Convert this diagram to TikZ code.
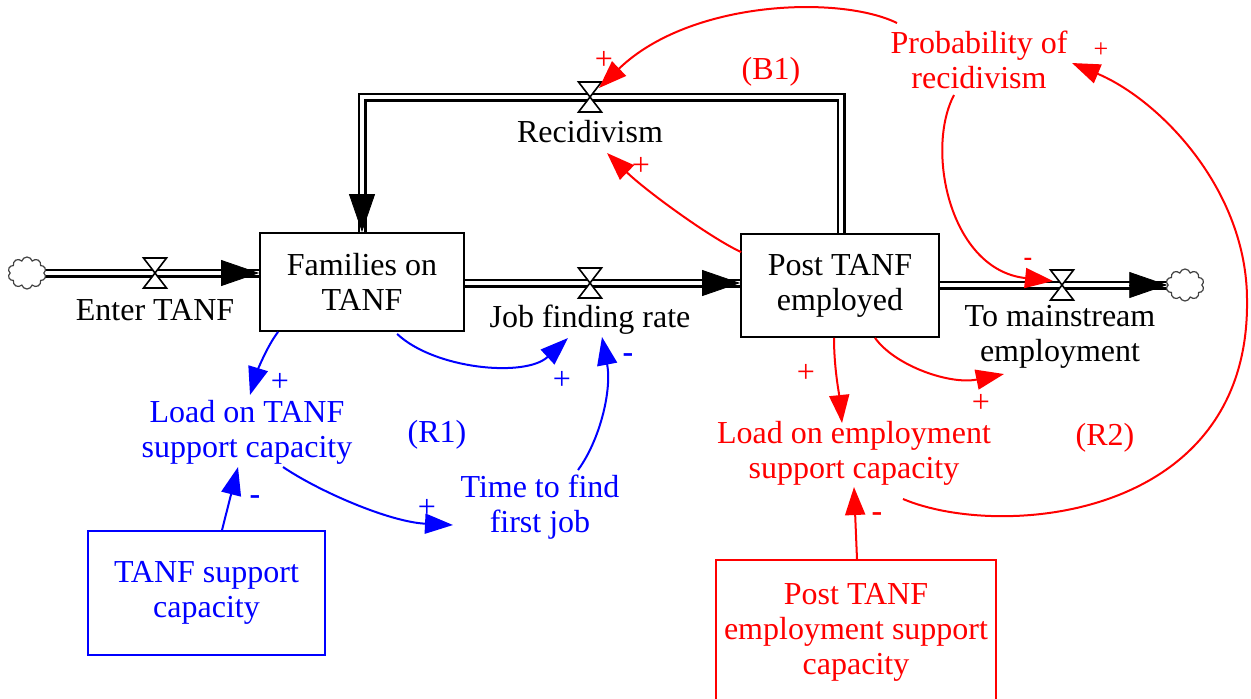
\documentclass[tikz,border=0pt]{standalone}
\usepackage{fontspec}
\setmainfont{Liberation Serif}
\usetikzlibrary{arrows.meta,shapes.symbols,calc,backgrounds}
\definecolor{cblue}{RGB}{0,0,255}
\definecolor{cred}{RGB}{255,0,0}
\tikzset{
  flowvalve/.pic={\draw[line width=0.8pt, fill=white, line join=miter] (-11.5,-15) -- (11.5,-15) -- (-11.5,15) -- (11.5,15) -- cycle;},
}
\begin{document}
\begin{tikzpicture}[x=0.5pt,y=-0.5pt,
  every node/.style={font=\fontsize{16}{17.5}\selectfont, align=center, inner sep=0pt},
  boxed/.style={draw, line width=0.9pt},
  pipe/.style={draw=black, line width=1.1pt, double=white, double distance=2.3pt},
  pipetip/.style={-{Triangle[length=19pt,width=13pt]}, line width=0.4pt},
  link/.style={line width=1pt, -{Triangle[length=14pt,width=10pt]}},
  sgn/.style={font=\fontsize{16}{16}\selectfont},
  smallsgn/.style={font=\fontsize{13}{13}\selectfont},
  cloudy/.style={cloud, cloud puffs=10, draw=black!75, line width=0.6pt, minimum width=19pt, minimum height=16pt, inner sep=0pt}]
\useasboundingbox (0,0) rectangle (1251,698);

% stocks and auxiliaries
\node[boxed, minimum width=102pt, minimum height=49pt] (fam) at (362,282) {Families on\\TANF};
\node[boxed, minimum width=99pt, minimum height=51.5pt] (post) at (840,285.5) {Post TANF\\employed};
\node[boxed, draw=cblue, text=cblue, minimum width=118.5pt, minimum height=62pt] (tsc) at (206.5,593) {TANF support\\capacity};
\node[boxed, draw=cred, text=cred, minimum width=140pt, minimum height=72pt] (pesc) at (856,632) {Post TANF\\employment support\\capacity};

\node[cloudy] (cloudL) at (27,273) {};
\node[cloudy] (cloudR) at (1185,285) {};

\node (enter) at (155,310) {Enter TANF};
\node (jfr) at (590,320) {Job finding rate};
\node (recid) at (590,132) {Recidivism};
\node (tm) at (1060,337) {To mainstream\\employment};
\node[text=cblue] (ltanf) at (247,432) {Load on TANF\\support capacity};
\node[text=cblue] (ttf) at (540,507) {Time to find\\first job};
\node[text=cblue] (r1) at (437,435) {(R1)};
\node[text=cred] (prob) at (979,60) {Probability of\\recidivism};
\node[text=cred] (b1) at (771,72) {(B1)};
\node[text=cred] (lemp) at (854,453) {Load on employment\\support capacity};
\node[text=cred] (r2) at (1105,438) {(R2)};

\coordinate (vEnter) at (155,273);
\coordinate (vJob) at (590,283);
\coordinate (vRec) at (590,97);
\coordinate (vMain) at (1062,285);

% pipes
\begin{scope}[on background layer]
\draw[pipe] (cloudL.east) -- (cloudL.east -| fam.west);
\draw[pipe] (fam.east |- vJob) -- (vJob -| post.west);
\draw[pipe] (post.east |- vMain) -- (vMain -| cloudR.west);
\draw[pipe] ($(post.north west)+(101,0)$) |- (vRec) -| (fam.north);
\end{scope}

\draw[pipetip] ($(cloudL.east -| fam.west)+(-38,0)$) -- (cloudL.east -| fam.west);
\draw[pipetip] ($(vJob -| post.west)+(-38,0)$) -- (vJob -| post.west);
\draw[pipetip] ($(vMain -| cloudR.west)+(-38,0)$) -- (vMain -| cloudR.west);
\draw[pipetip] ($(fam.north)+(0,-38)$) -- (fam.north);

\pic at (vEnter) {flowvalve};
\pic at (vJob) {flowvalve};
\pic at (vRec) {flowvalve};
\pic at (vMain) {flowvalve};

% blue links
\draw[link, cblue] ($(fam.south west)+(19,0)$) .. controls ($(fam.south west)+(8,14)$) and ($(ltanf.center)+(10,-60)$) .. ($(ltanf.center)+(3,-37)$);
\draw[link, cblue] ($(fam.south west)+(138,2)$) .. controls ($(fam.south west)+(175,37)$) and ($(jfr.center)+(-65,58)$) .. ($(jfr.center)+(-22,18)$);
\draw[link, cblue] ($(ttf.center)+(38,-37)$) .. controls ($(ttf.center)+(60,-67)$) and ($(jfr.center)+(22,70)$) .. ($(jfr.center)+(12,17)$);
\draw[link, cblue] ($(ltanf.center)+(36,35)$) .. controls ($(ltanf.center)+(73,60)$) and ($(ttf.center)+(-150,15)$) .. ($(ttf.center)+(-87,18)$);
\draw[link, cblue] ($(tsc.north)+(15.5,0)$) -- ($(ltanf.center)+(-9,35)$);

% red links
\draw[link, cred] ($(prob.center)+(-82,-37)$) .. controls ($(prob.center)+(-139,-65)$) and ($(vRec)+(100,-97)$) .. ($(vRec)+(9,-9)$);
\draw[link, cred] ($(post.north west)+(1,19)$) .. controls ($(post.north west)+(-31,4)$) and ($(recid.center)+(55,58)$) .. ($(recid.center)+(17,21)$);
\draw[link, cred] ($(prob.center)+(-25,35)$) .. controls ($(prob.center)+(-54,90)$) and ($(vMain)+(-112,-15)$) .. ($(vMain)+(-9,-4)$);
\draw[link, cred] ($(post.south)+(-6,0)$) .. controls ($(post.south)+(-6,30)$) and ($(lemp.center)+(-15,-60)$) .. ($(lemp.center)+(-12,-30)$);
\draw[link, cred] ($(post.south)+(35,0)$) .. controls ($(post.south)+(55,28)$) and ($(tm.center)+(-110,48)$) .. ($(tm.center)+(-56,37)$);
\draw[link, cred] ($(lemp.center)+(49,46)$) .. controls (1000,540) and (1250,520) .. (1247,300) .. controls (1247,190) and (1160,100) .. ($(prob.center)+(93,3)$);
\draw[link, cred] ($(pesc.north)+(1,0)$) -- ($(lemp.center)+(0,34)$);

% polarity signs
\node[sgn, text=cblue] (s1) at (280,382) {+};
\node[sgn, text=cblue] (s2) at (562,380) {+};
\node[sgn, text=cblue] (s3) at (628,358) {\textbf{-}};
\node[sgn, text=cblue] (s4) at (427,508) {+};
\node[sgn, text=cblue] (s5) at (255,500) {\textbf{-}};
\node[sgn, text=cred] (s6) at (604,60) {+};
\node[sgn, text=cred] (s7) at (641,166) {+};
\node[smallsgn, text=cred] (s8) at (1028,262) {\textbf{-}};
\node[sgn, text=cred] (s9) at (806,373) {+};
\node[sgn, text=cred] (s10) at (981,403) {+};
\node[smallsgn, text=cred] (s11) at (1101,50) {+};
\node[sgn, text=cred] (s12) at (877,517) {\textbf{-}};
\end{tikzpicture}
\end{document}
